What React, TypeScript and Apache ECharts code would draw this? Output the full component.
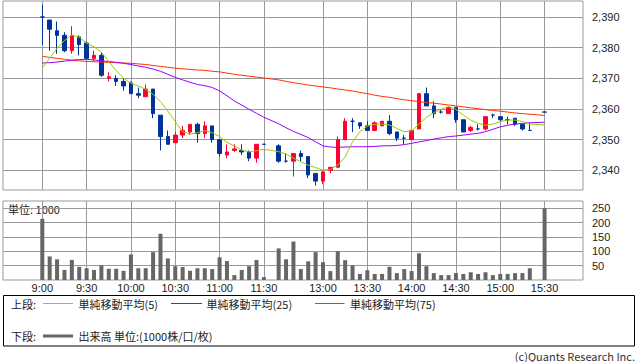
import React, { useEffect, useRef } from 'react';
import * as echarts from 'echarts';

// Slot index: 0 = 9:00, 30 = 11:30, 31 = lunch gap, 32 = 12:30, 68 = 15:30 (5-minute bars)
const tickIdx = [0, 6, 12, 18, 24, 30, 38, 44, 50, 56, 62, 68];
const tickLabels = ['9:00', '9:30', '10:00', '10:30', '11:00', '11:30', '13:00', '13:30', '14:00', '14:30', '15:00', '15:30'];

const priceTicks = [2340, 2350, 2360, 2370, 2380, 2390];
const volumeTicks = [50, 100, 150, 200, 250];

const opens = [
  2390, 2389, 2385.5, 2384, 2379, 2383.5, 2381.5, 2376.5, 2377.5, 2370,
  2370, 2369, 2368.5, 2365, 2364, 2366.5, 2358, 2351, 2349, 2351.5,
  2352.5, 2355, 2352, 2354.5, 2350, 2345, 2346.5, 2346.5, 2346, 2344,
  2348.5, null, 2348, 2343, 2343, 2345.5, 2344.5, 2339, 2336.5, 2340,
  2341, 2350, 2356, 2355.5, 2354.5, 2353, 2354.5, 2356, 2352.5, 2350.5,
  2350, 2353.5, 2365, 2361, 2359, 2358.5, 2360.5, 2356.5, 2353, 2353.5,
  2353.5, 2358, 2357.5, 2356.5, 2357, 2355, 2353, null, 2359,
];
const closes = [
  2390, 2386, 2384, 2379, 2384, 2381, 2376.5, 2377.5, 2371, 2370.5,
  2369, 2367.5, 2365, 2364.5, 2366.5, 2358.5, 2351, 2348.5, 2351.5, 2353,
  2355, 2352, 2354.5, 2350, 2345.5, 2346, 2347, 2346, 2344, 2348.5,
  2348.5, null, 2343, 2343, 2345.5, 2344.5, 2338.5, 2336.5, 2339.5, 2341,
  2350, 2356, 2356, 2354.5, 2353, 2355.5, 2356, 2352, 2350.5, 2350.5,
  2353, 2365, 2361, 2358.5, 2359, 2360.5, 2356.5, 2352.5, 2354, 2353.5,
  2357.5, 2358, 2356.5, 2356.5, 2355, 2353.5, 2353, null, 2359,
];
const lows = [
  2381, 2379, 2378, 2378.5, 2378, 2377.5, 2376, 2375.5, 2370.5, 2369,
  2367.5, 2366, 2365, 2363.5, 2364, 2357, 2346.5, 2348.5, 2349, 2350.5,
  2351.5, 2349, 2350.5, 2349, 2344.5, 2344, 2346, 2345, 2343, 2342.5,
  2348.5, null, 2342.5, 2342.5, 2338, 2343, 2337.5, 2335, 2335.5, 2339,
  2341, 2350, 2352.5, 2353.5, 2353, 2353, 2354.5, 2351.5, 2349.5, 2348.5,
  2350, 2353.5, 2361, 2357, 2358.5, 2358.5, 2355.5, 2352.5, 2352.5, 2353,
  2353, 2357, 2356, 2355, 2354.5, 2353, 2353, null, 2359,
];
const highs = [
  2394, 2389, 2388.5, 2385, 2387, 2384, 2382, 2379, 2378.5, 2372,
  2371, 2370, 2369, 2367, 2368, 2366.5, 2358, 2353, 2352.5, 2354.5,
  2355, 2355.5, 2356, 2354.5, 2350, 2348.5, 2348.5, 2348.5, 2346.5, 2348.5,
  2348.5, null, 2348.5, 2345.5, 2345.5, 2346.5, 2344.5, 2339, 2340, 2341,
  2351, 2357, 2357, 2355.5, 2356, 2356, 2356, 2358, 2352.5, 2351.5,
  2353, 2365, 2367, 2362.5, 2360, 2360.5, 2360.5, 2356.5, 2354.5, 2355,
  2357.5, 2358.5, 2357.5, 2357.5, 2357, 2355, 2355.5, null, 2359,
];
const volumes = [
  213, 82, 72, 35, 70, 46, 41, 35, 51, 39,
  39, 32, 89, 41, 41, 97, 161, 75, 48, 45,
  32, 41, 41, 38, 79, 66, 17, 35, 48, 70,
  10, null, 110, 72, 134, 38, 65, 97, 62, 31,
  100, 69, 51, 21, 34, 21, 21, 46, 24, 38,
  31, 93, 48, 24, 17, 17, 24, 21, 27, 21,
  27, 17, 21, 21, 24, 24, 41, null, 250,
];
const ma5 = [
  2373.4, 2376.5, 2379.8, 2382.3, 2384.1, 2383.4, 2381.4, 2380.3, 2378.5, 2375.5,
  2372.5, 2370.1, 2368.4, 2367.5, 2366.4, 2364.8, 2362.4, 2359.3, 2355.9, 2352.6,
  2351.8, 2352.3, 2352.9, 2352.3, 2351.0, 2349.1, 2348.0, 2346.6, 2346.0, 2346.4,
  2346.9, null, 2346.1, 2345.3, 2344.0, 2342.8, 2341.7, 2340.9, 2340.1, 2340.3,
  2341.7, 2344.4, 2349.3, 2352.6, 2354.4, 2355.0, 2355.1, 2354.8, 2353.7, 2352.6,
  2352.8, 2355.1, 2357.3, 2358.8, 2359.9, 2360.8, 2359.9, 2358.0, 2356.4, 2355.3,
  2354.7, 2355.1, 2355.9, 2356.4, 2356.4, 2355.9, 2355.1, null, 2354.8,
];
const ma25 = [
  2375.0, 2375.1, 2375.3, 2375.6, 2375.9, 2376.1, 2376.2, 2376.0, 2375.7, 2375.5,
  2375.2, 2374.9, 2374.5, 2374.0, 2373.6, 2373.0, 2372.3, 2371.3, 2370.3, 2369.5,
  2368.7, 2368.0, 2367.6, 2367.0, 2365.9, 2364.3, 2362.6, 2361.3, 2359.9, 2358.6,
  2357.3, null, 2355.2, 2353.9, 2352.7, 2351.7, 2350.7, 2349.3, 2348.0, 2347.6,
  2347.5, 2347.6, 2347.7, 2347.7, 2347.7, 2347.8, 2348.0, 2348.0, 2348.1, 2348.4,
  2348.8, 2349.3, 2349.7, 2350.2, 2350.6, 2351.0, 2351.2, 2351.5, 2351.8, 2352.1,
  2352.6, 2353.4, 2354.2, 2354.7, 2355.1, 2355.3, 2355.5, null, 2355.7,
];
const ma75 = [
  2377.2, 2376.8, 2376.5, 2376.2, 2375.9, 2375.7, 2375.5, 2375.4, 2375.3, 2375.2,
  2375.1, 2375.0, 2374.9, 2374.7, 2374.5, 2374.2, 2373.9, 2373.6, 2373.3, 2373.1,
  2372.9, 2372.7, 2372.6, 2372.3, 2372.1, 2371.7, 2371.3, 2371.0, 2370.7, 2370.4,
  2370.1, null, 2369.5, 2369.0, 2368.6, 2368.2, 2367.8, 2367.5, 2367.2, 2366.9,
  2366.5, 2366.2, 2365.9, 2365.4, 2365.0, 2364.5, 2364.1, 2363.8, 2363.4, 2363.0,
  2362.7, 2362.4, 2362.1, 2361.9, 2361.6, 2361.3, 2361.0, 2360.7, 2360.4, 2360.1,
  2359.8, 2359.5, 2359.3, 2359.0, 2358.7, 2358.5, 2358.3, null, 2357.9,
];

const RED = '#ff0033';
const BLUE = '#003399';
const C_MA5 = '#99cc00';
const C_MA25 = '#9900ff';
const C_MA75 = '#ff3300';
const GRID = '#999999';
const VOL = '#666666';
const FONT = "'Noto Sans CJK JP', 'Noto Sans', sans-serif";
const AXIS_FONT = "'Liberation Sans', Arial, sans-serif";

const X_MIN = -5.32;
const X_MAX = 73.2;

function pairs(arr: (number | null)[]) {
  const out: [number, number][] = [];
  arr.forEach((v, i) => {
    if (v != null) out.push([i, v]);
  });
  return out;
}

export default function App() {
  const ref = useRef<HTMLDivElement>(null);
  useEffect(() => {
    if (!ref.current) return;
    const chart = echarts.init(ref.current, null, { renderer: 'svg' });

    const candles: any[] = [];
    opens.forEach((o, i) => {
      if (o == null) return;
      const c = closes[i] as number;
      const item: any = { value: [i, o, c, lows[i], highs[i]] };
      if (o === c) item.itemStyle = { color: BLUE, borderColor: BLUE, color0: BLUE, borderColor0: BLUE };
      candles.push(item);
    });

    const labelFor = (v: number) => {
      const k = tickIdx.indexOf(Math.round(v));
      return k >= 0 ? tickLabels[k] : '';
    };

    const legendText = (text: string, x: number, y: number) => ({
      type: 'text',
      x,
      y,
      silent: true,
      style: { text, fill: '#222', font: `11px ${FONT}`, verticalAlign: 'middle', align: 'left' },
    });
    const legendLine = (x1: number, x2: number, y: number, color: string, w: number) => ({
      type: 'line',
      silent: true,
      shape: { x1, y1: y, x2, y2: y },
      style: { stroke: color, lineWidth: w },
    });

    const axisLabelStyle = { color: '#222', fontSize: 11, lineHeight: 12, fontFamily: AXIS_FONT };

    const option: any = {
      animation: false,
      backgroundColor: '#ffffff',
      textStyle: { fontFamily: FONT },
      grid: [
        { left: 3, right: 55, top: 1, height: 189, show: true, borderColor: GRID, borderWidth: 1, outerBoundsMode: 'none', containLabel: false },
        { left: 3, right: 55, top: 201, height: 79, show: true, borderColor: GRID, borderWidth: 1, outerBoundsMode: 'none', containLabel: false },
      ],
      xAxis: [
        {
          type: 'value', gridIndex: 0, min: X_MIN, max: X_MAX,
          axisLine: { show: false },
          axisTick: { show: false, customValues: tickIdx },
          axisLabel: { show: false, customValues: tickIdx },
          splitLine: { show: true, lineStyle: { color: GRID, width: 1 } },
        },
        {
          type: 'value', gridIndex: 1, min: X_MIN, max: X_MAX,
          axisLine: { show: false },
          axisTick: { show: false, customValues: tickIdx },
          axisLabel: {
            show: true, customValues: tickIdx, formatter: labelFor, margin: 2, ...axisLabelStyle,
          },
          splitLine: { show: true, lineStyle: { color: GRID, width: 1 } },
        },
      ],
      yAxis: [
        {
          type: 'value', gridIndex: 0, position: 'right', min: 2333.6, max: 2395.2,
          axisLine: { show: false },
          axisTick: { show: true, length: 4, lineStyle: { color: GRID }, customValues: priceTicks },
          axisLabel: {
            show: true, customValues: priceTicks, margin: 9, ...axisLabelStyle,
            formatter: (v: number) => v.toLocaleString('en-US'),
          },
          splitLine: { show: true, lineStyle: { color: GRID, width: 1 } },
        },
        {
          type: 'value', gridIndex: 1, position: 'right', min: 0, max: 275,
          axisLine: { show: false },
          axisTick: { show: true, length: 4, lineStyle: { color: GRID }, customValues: volumeTicks },
          axisLabel: {
            show: true, customValues: volumeTicks, margin: 9, ...axisLabelStyle,
          },
          splitLine: { show: true, lineStyle: { color: GRID, width: 1 } },
        },
      ],
      series: [
        {
          type: 'candlestick', xAxisIndex: 0, yAxisIndex: 0, barWidth: 4,
          encode: { x: 0, y: [1, 2, 3, 4] },
          itemStyle: { color: RED, color0: BLUE, borderColor: RED, borderColor0: BLUE, borderWidth: 1 },
          data: candles,
        },
        {
          type: 'line', xAxisIndex: 0, yAxisIndex: 0, data: pairs(ma75), showSymbol: false, symbol: 'none',
          lineStyle: { color: C_MA75, width: 1 }, itemStyle: { color: C_MA75 },
        },
        {
          type: 'line', xAxisIndex: 0, yAxisIndex: 0, data: pairs(ma25), showSymbol: false, symbol: 'none',
          lineStyle: { color: C_MA25, width: 1 }, itemStyle: { color: C_MA25 },
        },
        {
          type: 'line', xAxisIndex: 0, yAxisIndex: 0, data: pairs(ma5), showSymbol: false, symbol: 'none',
          lineStyle: { color: C_MA5, width: 1 }, itemStyle: { color: C_MA5 },
        },
        {
          type: 'bar', xAxisIndex: 1, yAxisIndex: 1, barWidth: 4, data: pairs(volumes),
          itemStyle: { color: VOL },
        },
      ],
      graphic: [
        legendText('単位: 1000', 8, 208.5),
        {
          type: 'rect', silent: true,
          shape: { x: 3.5, y: 295.5, width: 631, height: 50.5 },
          style: { fill: 'none', stroke: '#000', lineWidth: 1 },
        },
        legendText('上段:', 11, 304),
        legendLine(43, 73, 303.5, C_MA5, 1),
        legendText('単純移動平均(5)', 78.5, 304),
        legendLine(171, 202, 303.5, C_MA25, 1),
        legendText('単純移動平均(25)', 206.5, 304),
        legendLine(315, 344.5, 303.5, C_MA75, 1),
        legendText('単純移動平均(75)', 350, 304),
        legendText('下段:', 11, 336),
        legendLine(43, 73, 336, VOL, 3),
        legendText('出来高 単位:(1000株/口/枚)', 78.5, 336),
        {
          type: 'text', silent: true, x: 635, y: 355.5,
          style: { text: '(c)Quants Research Inc.', fill: '#333', font: `11px ${FONT}`, verticalAlign: 'middle', align: 'right' },
        },
      ],
    };
    chart.setOption(option);
    return () => chart.dispose();
  }, []);

  return (
    <div
      ref={ref}
      style={{ position: 'fixed', left: 0, top: 0, width: 638, height: 362, background: '#ffffff' }}
    />
  );
}
